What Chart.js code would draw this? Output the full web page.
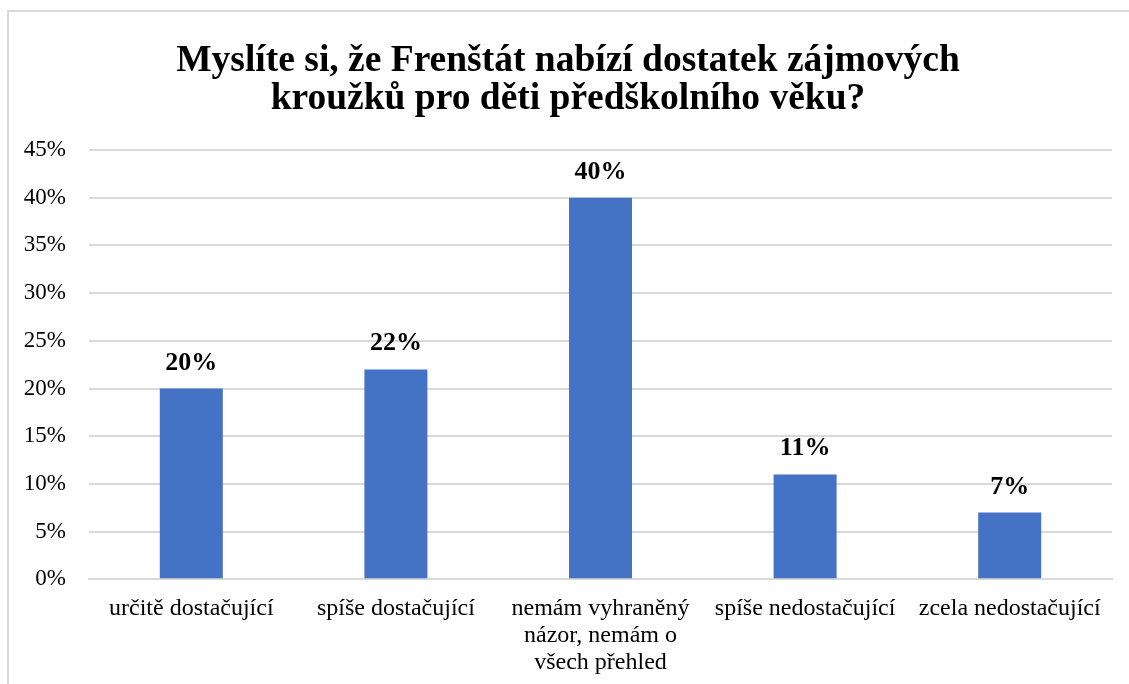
<!DOCTYPE html>
<html><head><meta charset="utf-8">
<script src="https://cdn.jsdelivr.net/npm/chart.js@4/dist/chart.umd.min.js"></script>
<style>
html,body{margin:0;padding:0;background:#fff;overflow:hidden;}
#wrap{position:absolute;left:0;top:0;width:1129px;height:700px;}
#frame{position:absolute;left:7px;top:10px;width:1140px;height:700px;border-left:2px solid #d9d9d9;border-top:2px solid #d9d9d9;pointer-events:none;}
</style></head>
<body>
<div id="wrap"><canvas id="c" width="1129" height="700"></canvas></div>
<div id="frame"></div>
<script>
const titleLines = ["Myslíte si, že Frenštát nabízí dostatek zájmových", "kroužků pro děti předškolního věku?"];
const categories = [
  "určitě dostačující",
  "spíše dostačující",
  ["nemám vyhraněný", "názor, nemám o", "všech přehled"],
  "spíše nedostačující",
  "zcela nedostačující"
];
const values = [20, 22, 40, 11, 7];
const valueLabels = ["20%", "22%", "40%", "11%", "7%"];
const yMax = 45, yStep = 5;

const serif = "'Liberation Serif', 'Times New Roman', serif";

const labelPlugin = {
  id: 'valLabels',
  afterDatasetsDraw(chart) {
    const ctx = chart.ctx;
    const meta = chart.getDatasetMeta(0);
    ctx.save();
    ctx.font = "bold 26px " + serif;
    ctx.fillStyle = "#000";
    ctx.textAlign = "center";
    ctx.textBaseline = "alphabetic";
    meta.data.forEach((bar, i) => {
      ctx.fillText(valueLabels[i], bar.x, bar.y - 19);
    });
    ctx.restore();
  }
};

new Chart(document.getElementById('c'), {
  type: 'bar',
  data: {
    labels: categories,
    datasets: [{ data: values, backgroundColor: '#4472C4', barPercentage: 0.308, categoryPercentage: 1.0 }]
  },
  options: {
    responsive: false,
    animation: false,
    layout: { padding: { left: 24, right: 17, top: 43, bottom: 8 } },
    plugins: {
      legend: { display: false },
      tooltip: { enabled: false },
      title: {
        display: true,
        text: titleLines,
        color: '#000',
        font: { family: serif, size: 37.5, weight: 'bold', lineHeight: 1.0 },
        padding: { top: 0, bottom: 32 }
      }
    },
    scales: {
      x: {
        grid: { display: false, drawTicks: false },
        border: { display: true, color: '#d9d9d9', width: 2 },
        ticks: { color: '#000', font: { family: serif, size: 24, lineHeight: 1.12 }, padding: 16, maxRotation: 0, autoSkip: false }
      },
      y: {
        min: 0, max: yMax,
        afterFit: s => { s.width = 65; },
        grid: { color: '#d9d9d9', lineWidth: 2, drawTicks: false },
        border: { display: false },
        ticks: { stepSize: yStep, color: '#000', font: { family: serif, size: 23 }, padding: 23, callback: v => v + '%' }
      }
    }
  },
  plugins: [labelPlugin]
});
</script>
</body></html>
